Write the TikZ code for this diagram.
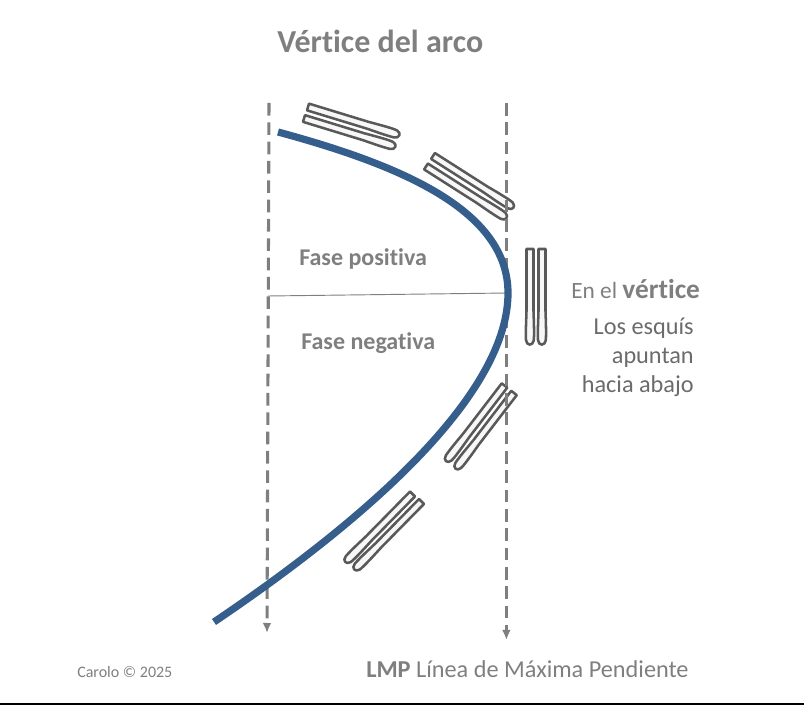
\documentclass[tikz,border=0pt]{standalone}
\usepackage{fontspec}
\setmainfont[Ligatures=NoCommon]{Carlito}
\usetikzlibrary{arrows.meta}
\definecolor{arcblue}{HTML}{355E8D}
\definecolor{lmpgray}{HTML}{7F7F7F}
\definecolor{skigray}{HTML}{595959}
\definecolor{notegray}{HTML}{6B6B6B}
\begin{document}
\begin{tikzpicture}[x=0.75pt,y=-0.75pt,>={Latex[length=7.5pt,width=6.5pt]},
      lmp/.style={draw=lmpgray,line width=2.3pt,dash pattern=on 9.5pt off 5pt,->},
      ski/.style={draw=skigray,line width=1.9pt,fill=black!3,line join=round},
      label/.style={inner sep=0pt,text=lmpgray},
      note/.style={inner sep=0pt,text=notegray,font=\fontsize{18.2}{18.2}\selectfont},
      skis/.pic={
        \draw[ski] (0,-3.5) -- (62,-3.5) .. controls (76,-4) and (88,-4.4) .. (92,-3.6)
          .. controls (97,-2.5) and (97,3.5) .. (91,4) .. controls (82,4.4) and (72,3.8) .. (62,3.5) -- (0,3.5) -- cycle;
      }]
      \useasboundingbox (0,0) rectangle (804,705);
      \coordinate (lmp1a) at (269,103);
      \coordinate (lmp1b) at (267,633);
      \coordinate (lmp2a) at (506.4,103);
      \coordinate (lmp2b) at (506.4,640);
      \coordinate (arc0) at (278,132);
      \coordinate (vertex) at (508,293);
      \coordinate (arc1) at (214,622);
      \coordinate (phase0) at (268,296);
      \coordinate (frame0) at (0,704);
      \coordinate (frame1) at (804,704);
      % pares de esquis
      \pic[rotate=-17] at (308,107) {skis};
      \pic[rotate=-17] at (304,118.5) {skis};
      \pic[rotate=-32.5] at (433,156) {skis};
      \pic[rotate=-32.5] at (426,166.5) {skis};
      \pic[rotate=-90] at (530,249) {skis};
      \pic[rotate=-90] at (542,249) {skis};
      \pic[rotate=-127.5] at (504.5,385.5) {skis};
      \pic[rotate=-127.5] at (514,393) {skis};
      \pic[rotate=-134.5] at (412.5,494) {skis};
      \pic[rotate=-134.5] at (421.5,501.5) {skis};
      % lineas de maxima pendiente
      \draw[lmp] (lmp1a) -- (lmp1b);
      \draw[lmp] (lmp2a) -- (lmp2b);
      \draw[lmpgray,line width=0.7pt] (phase0) -- (vertex);
      \draw[arcblue,line width=5.4pt] (arc0) .. controls (400,165) and (508,210) .. (vertex)
        .. controls (508,390) and (380,510) .. (arc1);
      \draw[black,line width=1pt] (frame0) -- (frame1);
      % textos
      \node[label,anchor=base west,font=\fontsize{24}{24}\selectfont\bfseries] (title) at (277,53) {Vértice del arco};
      \node[label,anchor=base west,font=\fontsize{18}{18}\selectfont\bfseries] (fasepos) at (299,266) {Fase positiva};
      \node[label,anchor=base west,font=\fontsize{18}{18}\selectfont\bfseries] (faseneg) at (301,350) {Fase negativa};
      \node[label,anchor=base west,font=\fontsize{17.5}{17.5}\selectfont] (envertice) at (571,299) {En el \textbf{\fontsize{20.5}{20.5}\selectfont vértice}};
      \node[note,anchor=base east] (note1) at (694,335) {Los esquís};
      \node[note,anchor=base east] (note2) at (694,364) {apuntan};
      \node[note,anchor=base east] (note3) at (694,393) {hacia abajo};
      \node[label,anchor=base west,font=\fontsize{12}{12}\selectfont] (carolo) at (77,678) {Carolo © 2025};
      \node[label,anchor=base west,font=\fontsize{18.2}{18.2}\selectfont] (lmptext) at (366,678) {\textbf{LMP} Línea de Máxima Pendiente};
    \end{tikzpicture}
\end{document}
